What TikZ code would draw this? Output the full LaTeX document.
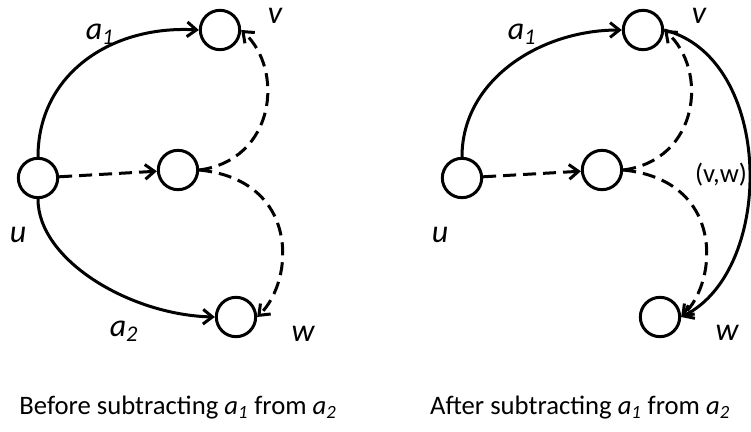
\documentclass[tikz,border=0pt]{standalone}
\usepackage{fontspec}
\setmainfont{Carlito}
\usetikzlibrary{arrows.meta}
\begin{document}
\begin{tikzpicture}[x=0.75pt,y=-0.75pt,
  vtx/.style={circle,draw,line width=2.25pt,minimum size=29.5pt,inner sep=0pt},
  arc/.style={line width=2.25pt,-{Straight Barb[length=7pt,width=11pt]}},
  dsh/.style={arc,dash pattern=on 9.75pt off 5.25pt},
  lbl/.style={font=\fontsize{24}{28}\selectfont\itshape,inner sep=0pt},
  captxt/.style={font=\fontsize{20}{24}\selectfont,inner sep=0pt,anchor=base}]
\useasboundingbox[fill=white] (0,0) rectangle (751,432);
% left diagram
\node[vtx] (u) at (38,178) {};
\node[vtx] (m) at (178,170) {};
\node[vtx] (v) at (220,30) {};
\node[vtx] (w) at (236,317) {};
\draw[arc] (u.north) .. controls (38,75) and (110,25) .. (v.west);
\draw[arc] (u.south) .. controls (38,260) and (130,315) .. (w.west);
\draw[dsh] (u) -- (m);
\draw[dsh] (m.east) .. controls (275,160) and (285,70) .. (v.east);
\draw[dsh] (m.east) .. controls (300,180) and (295,280) .. (w.east);
\node[lbl] (la1) at (100,34) {a\textsubscript{1}};
\node[lbl] (lv) at (275,16) {v};
\node[lbl] (lu) at (18,235) {u};
\node[lbl] (la2) at (124,331) {a\textsubscript{2}};
\node[lbl] (lw) at (303,334) {w};
\node[captxt] (c1) at (178,414) {Before subtracting \textit{a\textsubscript{1}} from \textit{a\textsubscript{2}}};
% right diagram
\node[vtx] (u2) at (462,178) {};
\node[vtx] (m2) at (602,170) {};
\node[vtx] (v2) at (643,30) {};
\node[vtx] (w2) at (660,317) {};
\draw[arc] (u2.north) .. controls (462,80) and (540,30) .. (v2.west);
\draw[dsh] (u2) -- (m2);
\draw[dsh] (m2.east) .. controls (699,160) and (709,70) .. (v2.east);
\draw[dsh] (m2.east) .. controls (724,180) and (719,280) .. (w2.east);
\draw[arc] (v2.east) .. controls (774,57.5) and (776,269.5) .. (w2.east);
\node[lbl] (ra1) at (522,34) {a\textsubscript{1}};
\node[lbl] (rv) at (699,16) {v};
\node[lbl] (ru) at (440,235) {u};
\node[lbl] (rw) at (727,333) {w};
\node[font=\fontsize{20}{24}\selectfont,inner sep=0pt] (rvw) at (721,175) {(v,w)};
\node[captxt] (c2) at (580,414) {After subtracting \textit{a\textsubscript{1}} from \textit{a\textsubscript{2}}};
\end{tikzpicture}
\end{document}
